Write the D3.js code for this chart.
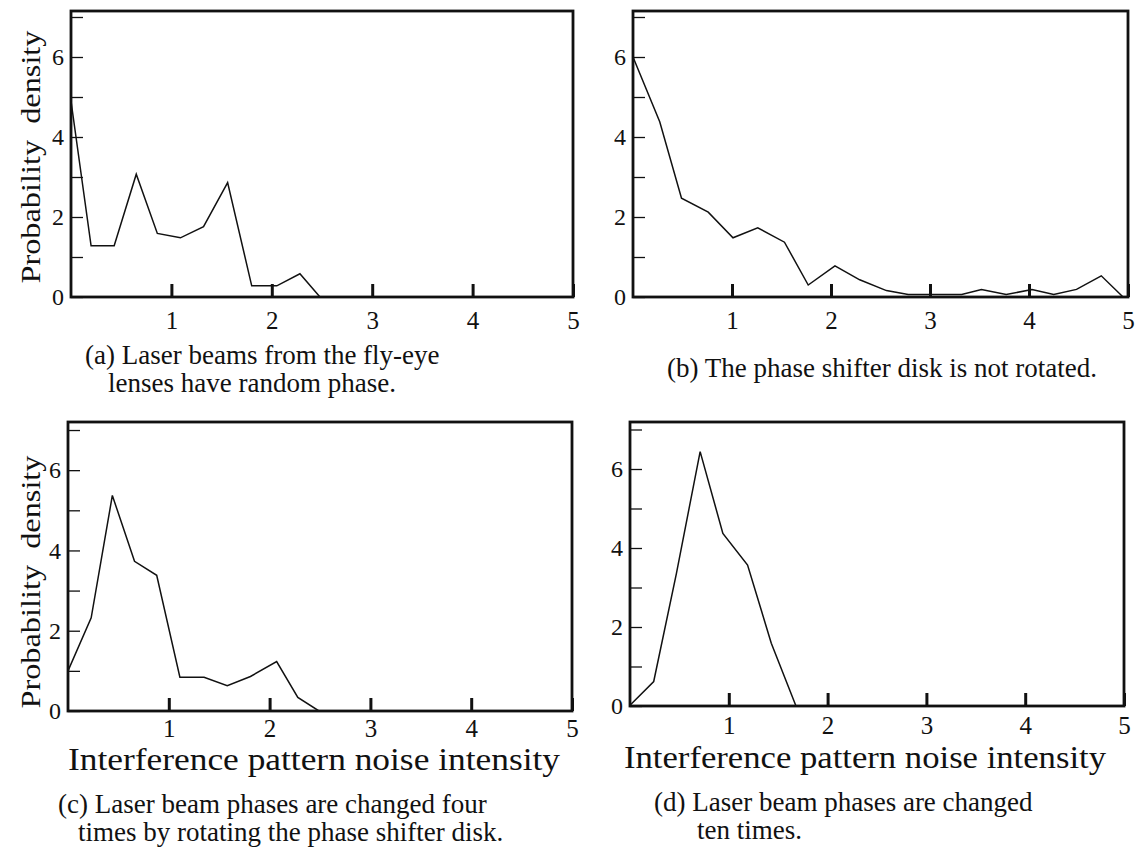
<!DOCTYPE html>
<html>
<head>
<meta charset="utf-8">
<script src="https://cdnjs.cloudflare.com/ajax/libs/d3/7.8.5/d3.min.js"></script>
<style>
  body { margin: 0; background: #fff; }
  text { font-family: "Liberation Serif", "Times New Roman", serif; fill: #111; }
</style>
</head>
<body>
<div id="graph"></div>
<script>
'use strict';

// values (x = noise intensity, y = probability density)
const xTickValues = [1, 2, 3, 4, 5];
const yTickValues = [0, 1, 2, 3, 4, 5, 6, 7];

const xA = [0, 0.2, 0.43, 0.65, 0.86, 1.09, 1.32, 1.56, 1.80, 2.05, 2.28, 2.48, 5];
const yA = [4.9, 1.28, 1.28, 3.07, 1.59, 1.48, 1.76, 2.86, 0.28, 0.28, 0.58, 0, 0];

const xB = [0, 0.27, 0.49, 0.76, 1.01, 1.26, 1.53, 1.77, 2.04, 2.29, 2.56, 2.78, 3.05, 3.32, 3.52, 3.77, 4.03, 4.25, 4.48, 4.73, 4.95];
const yB = [6.0, 4.38, 2.47, 2.12, 1.48, 1.73, 1.37, 0.30, 0.78, 0.43, 0.16, 0.06, 0.06, 0.06, 0.19, 0.06, 0.19, 0.06, 0.19, 0.53, 0];

const xC = [0, 0.23, 0.44, 0.66, 0.88, 1.11, 1.35, 1.58, 1.81, 2.07, 2.28, 2.49, 5];
const yC = [1.0, 2.32, 5.37, 3.73, 3.38, 0.84, 0.84, 0.63, 0.86, 1.23, 0.34, 0, 0];

const xD = [0, 0.24, 0.47, 0.71, 0.94, 1.19, 1.43, 1.68, 5];
const yD = [0.02, 0.62, 3.36, 6.44, 4.37, 3.57, 1.59, 0, 0];

const yTitle = 'Probability  density';
const xTitle = 'Interference pattern noise intensity';

const captionsA = ['(a) Laser beams from the fly-eye', 'lenses have random phase.'];
const captionsB = ['(b) The phase shifter disk is not rotated.'];
const captionsC = ['(c) Laser beam phases are changed four', 'times by rotating the phase shifter disk.'];
const captionsD = ['(d) Laser beam phases are changed', 'ten times.'];

// layout of the four panels
const panels = [
    { xs: xA, ys: yA, left: 71, right: 573, top: 11, bottom: 297, yMax: 7.15,
      yLabelY: 157, xTitle: false, xPad: 14,
      caps: captionsA, capX: [85, 108], capY: [364, 392] },
    { xs: xB, ys: yB, left: 633, right: 1128, top: 11, bottom: 297, yMax: 7.15,
      yLabelY: null, xTitle: false, xPad: 14,
      caps: captionsB, capX: [667], capY: [377] },
    { xs: xC, ys: yC, left: 68, right: 572, top: 422, bottom: 711, yMax: 7.2,
      yLabelY: 582, xTitle: true, xPad: 8, xTitleX: 68, xTitleW: 492, xTitleY: 770,
      caps: captionsC, capX: [58, 78], capY: [813, 841] },
    { xs: xD, ys: yD, left: 630, right: 1124, top: 422, bottom: 706, yMax: 7.19,
      yLabelY: null, xTitle: true, xPad: 10, xTitleX: 624, xTitleW: 482, xTitleY: 768,
      caps: captionsD, capX: [654, 697], capY: [811, 839] }
];

const svg = d3.select('#graph')
    .append('svg')
    .attr('width', 1137)
    .attr('height', 852);

panels.forEach(drawPanel);

function drawPanel(p) {
    let x = d3.scaleLinear().domain([0, 5]).range([p.left, p.right]);
    let y = d3.scaleLinear().domain([0, p.yMax]).range([p.bottom, p.top]);

    // y axis, ticks pointing inwards, labels on the even values
    let yAxis = d3.axisLeft(y)
        .tickValues(yTickValues)
        .tickSize(-12)
        .tickPadding(7)
        .tickFormat((d) => d % 2 === 0 ? d : '');
    let gy = svg.append('g')
        .attr('transform', 'translate(' + p.left + ',0)')
        .call(yAxis);
    gy.select('.domain').remove();
    gy.selectAll('line').attr('stroke', '#111').attr('stroke-width', 1.3);
    gy.selectAll('text').attr('font-size', 24).attr('fill', '#111')
        .style('font-family', '"Liberation Serif", serif');

    // x axis, thick inward ticks
    let xAxis = d3.axisBottom(x)
        .tickValues(xTickValues)
        .tickSize(-13)
        .tickPadding(p.xPad)
        .tickFormat(d3.format('d'));
    let gx = svg.append('g')
        .attr('transform', 'translate(0,' + p.bottom + ')')
        .call(xAxis);
    gx.select('.domain').remove();
    gx.selectAll('line').attr('stroke', '#111').attr('stroke-width', 3);
    gx.selectAll('text').attr('font-size', 25).attr('fill', '#111')
        .style('font-family', '"Liberation Serif", serif');

    // frame
    svg.append('rect')
        .attr('x', p.left)
        .attr('y', p.top)
        .attr('width', p.right - p.left)
        .attr('height', p.bottom - p.top)
        .attr('fill', 'none')
        .attr('stroke', '#111')
        .attr('stroke-width', 2.8);

    // the density curve
    let pts = p.xs.map((v, i) => [v, p.ys[i]]);
    let line = d3.line()
        .x((d) => x(d[0]))
        .y((d) => y(d[1]));
    svg.append('path')
        .datum(pts)
        .attr('d', line)
        .attr('fill', 'none')
        .attr('stroke', '#111')
        .attr('stroke-width', 1.5)
        .attr('stroke-linejoin', 'miter');

    if (p.yLabelY !== null) {
        svg.append('text')
            .attr('transform', 'translate(40,' + p.yLabelY + ')rotate(-90)')
            .attr('text-anchor', 'middle')
            .attr('font-size', 28)
            .attr('textLength', 253)
            .attr('lengthAdjust', 'spacingAndGlyphs')
            .style('white-space', 'pre')
            .text(yTitle);
    }

    if (p.xTitle) {
        svg.append('text')
            .attr('x', p.xTitleX)
            .attr('y', p.xTitleY)
            .attr('font-size', 31)
            .attr('textLength', p.xTitleW)
            .attr('lengthAdjust', 'spacingAndGlyphs')
            .text(xTitle);
    }

    p.caps.forEach((c, i) => {
        svg.append('text')
            .attr('x', p.capX[i])
            .attr('y', p.capY[i])
            .attr('font-size', 27)
            .text(c);
    });
}
</script>
</body>
</html>
